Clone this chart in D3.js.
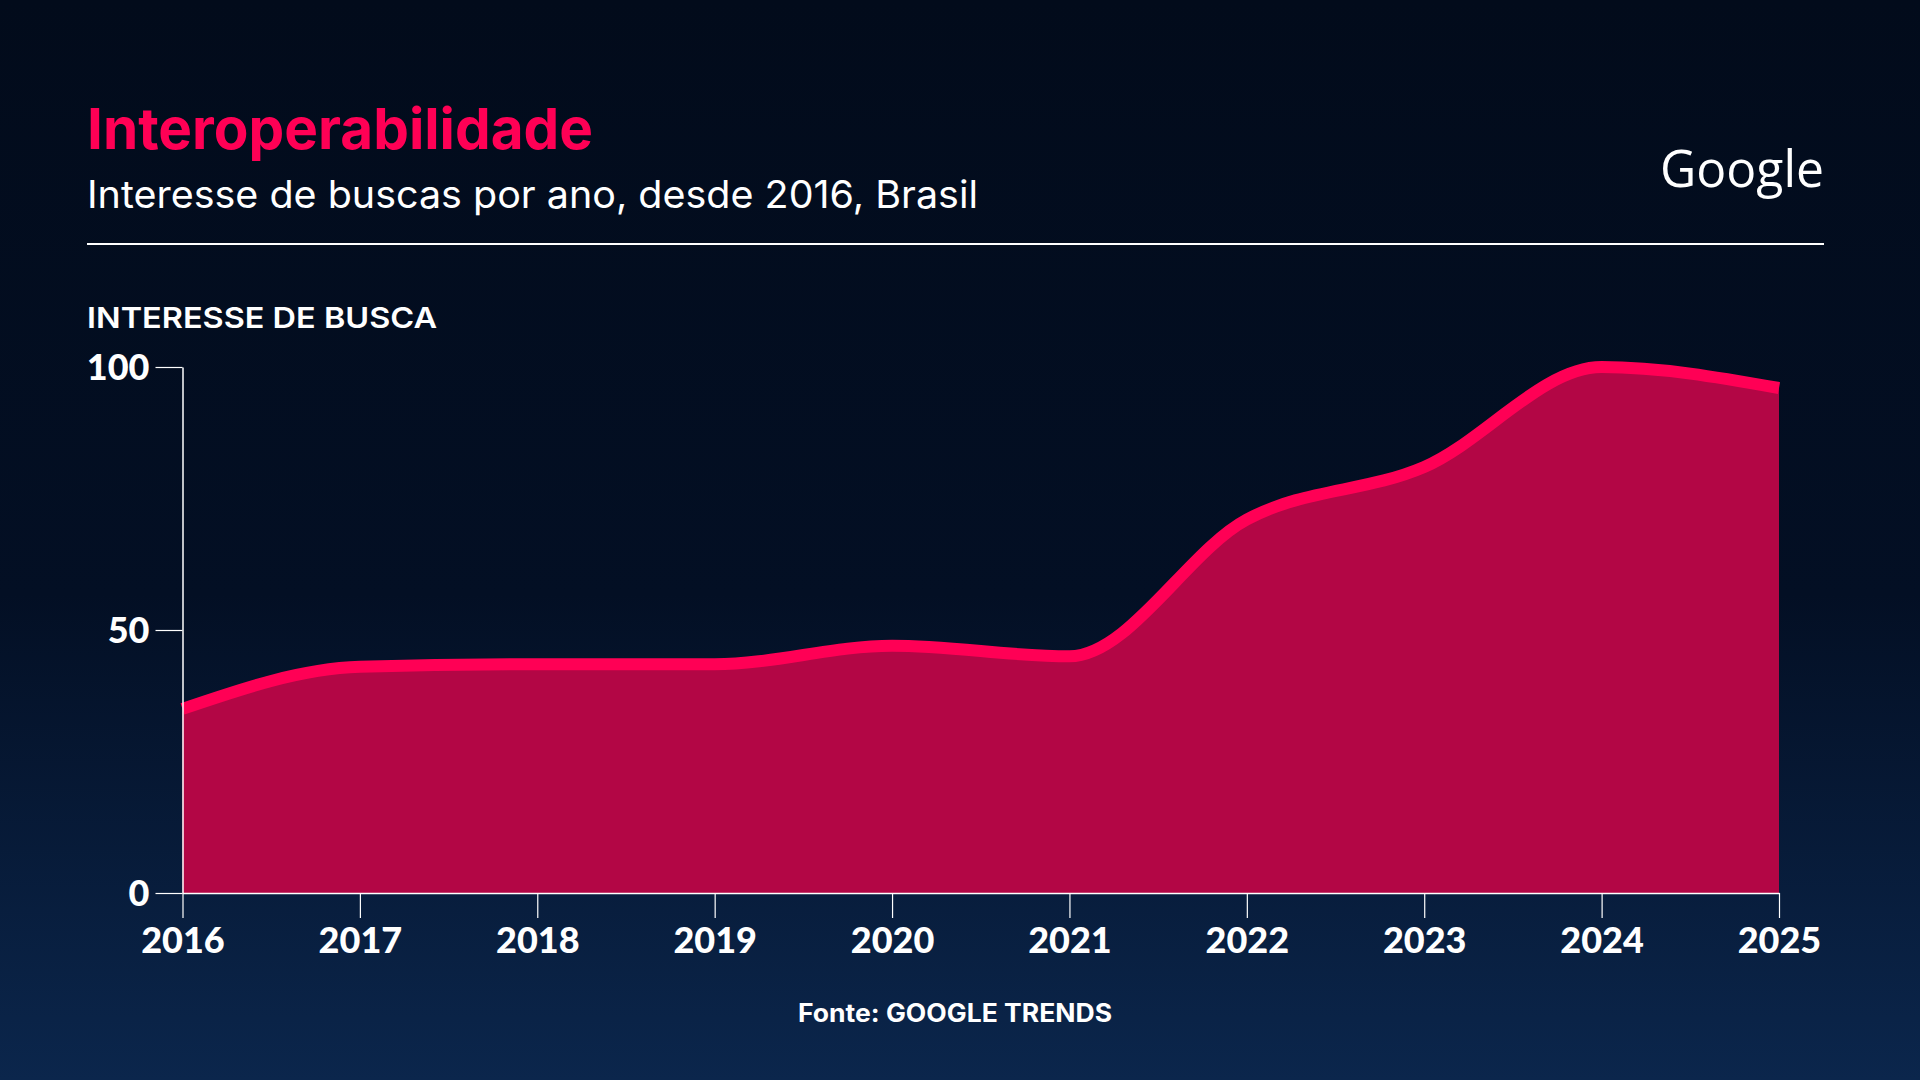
<!DOCTYPE html>
<html>
<head>
<meta charset="utf-8">
<script src="https://cdn.jsdelivr.net/npm/d3@7"></script>
<style>
  html, body { margin: 0; padding: 0; background: #020c1d; }
  svg { display: block; font-family: Inter, "Noto Sans", sans-serif; }
</style>
</head>
<body>
<svg width="1920" height="1080"></svg>
<script>
// Chart data.
const years = [2016, 2017, 2018, 2019, 2020, 2021, 2022, 2023, 2024, 2025];
const interest = [35, 43, 43.5, 43.5, 47, 45, 71, 81, 100, 96];
const yTicks = [0, 50, 100];

const title = "Interoperabilidade";
const subtitle = "Interesse de buscas por ano, desde 2016, Brasil";
const axisTitle = "INTERESSE DE BUSCA";
const source = "Fonte: GOOGLE TRENDS";

// Rendering variables.
const width = 1920;
const height = 1080;
const plot = { left: 182.5, right: 1779, top: 367, bottom: 893 };
const lineColor = "#ff0055";
const fillColor = "#b30645";

let svg = d3.select("svg");

// Background gradient.
const grad = svg.append("defs").append("linearGradient")
  .attr("id", "bg").attr("x1", 0).attr("y1", 0).attr("x2", 0).attr("y2", 1);
grad.append("stop").attr("offset", "0%").attr("stop-color", "#020b1b");
grad.append("stop").attr("offset", "55%").attr("stop-color", "#030f24");
grad.append("stop").attr("offset", "100%").attr("stop-color", "#0b264c");
svg.append("rect").attr("width", width).attr("height", height).attr("fill", "url(#bg)");

// Fit a text to the width it has in the reference.
function fit(sel, w) {
  sel.attr("textLength", w).attr("lengthAdjust", "spacingAndGlyphs");
}

// Header.
svg.append("text")
  .attr("x", 87).attr("y", 149)
  .attr("fill", lineColor)
  .attr("font-size", 57).attr("font-weight", 700)
  .text(title)
  .call(fit, 506);

svg.append("text")
  .attr("x", 87).attr("y", 208)
  .attr("fill", "#ffffff")
  .attr("font-size", 38).attr("font-weight", 400)
  .text(subtitle)
  .call(fit, 891);

svg.append("text")
  .attr("x", 1824).attr("y", 187)
  .attr("text-anchor", "end")
  .attr("fill", "#ffffff")
  .attr("font-family", "'Open Sans', sans-serif")
  .attr("font-size", 52).attr("font-weight", 500)
  .text("Google")
  .call(fit, 164);

svg.append("line")
  .attr("x1", 87).attr("x2", 1824).attr("y1", 244).attr("y2", 244)
  .attr("stroke", "#ffffff").attr("stroke-width", 2);

svg.append("text")
  .attr("x", 87).attr("y", 328)
  .attr("fill", "#ffffff")
  .attr("font-size", 29).attr("font-weight", 600)
  .text(axisTitle)
  .call(fit, 350);

// Scales.
const x = d3.scaleLinear().domain([years[0], years[years.length - 1]]).range([plot.left, plot.right]);
const y = d3.scaleLinear().domain([0, 100]).range([plot.bottom, plot.top]);

const points = years.map((yr, i) => ({ year: yr, value: interest[i] }));

// Area and line.
svg.append("path")
  .datum(points)
  .attr("fill", fillColor)
  .attr("d", d3.area()
    .x((d) => x(d.year))
    .y0(y(0))
    .y1((d) => y(d.value))
    .curve(d3.curveMonotoneX));

svg.append("path")
  .datum(points)
  .attr("fill", "none")
  .attr("stroke", lineColor)
  .attr("stroke-width", 12)
  .attr("d", d3.line()
    .x((d) => x(d.year))
    .y((d) => y(d.value))
    .curve(d3.curveMonotoneX));

// Axes.
const xAxis = svg.append("g")
  .attr("transform", `translate(0,${plot.bottom})`)
  .call(d3.axisBottom(x).tickValues(years).tickFormat(d3.format("d")).tickSize(25).tickSizeOuter(0));

const yAxis = svg.append("g")
  .attr("transform", `translate(${plot.left},0)`)
  .call(d3.axisLeft(y).tickValues(yTicks).tickSize(27).tickSizeOuter(0));

[xAxis, yAxis].forEach((g) => {
  g.select(".domain").attr("stroke", "#ffffff").attr("stroke-width", 1.5);
  g.selectAll(".tick line").attr("stroke", "#ffffff").attr("stroke-width", 1.2);
  g.selectAll(".tick text")
    .attr("fill", "#ffffff")
    .attr("font-family", "Lato, sans-serif")
    .attr("font-size", 36)
    .attr("font-weight", 900);
});
xAxis.selectAll(".tick text").attr("dy", null).attr("y", 60);
yAxis.selectAll(".tick text").attr("x", -33).attr("dy", "0.36em");

// Source.
svg.append("text")
  .attr("x", 955).attr("y", 1022)
  .attr("text-anchor", "middle")
  .attr("fill", "#ffffff")
  .attr("font-size", 25).attr("font-weight", 700)
  .text(source)
  .call(fit, 314);
</script>
</body>
</html>
